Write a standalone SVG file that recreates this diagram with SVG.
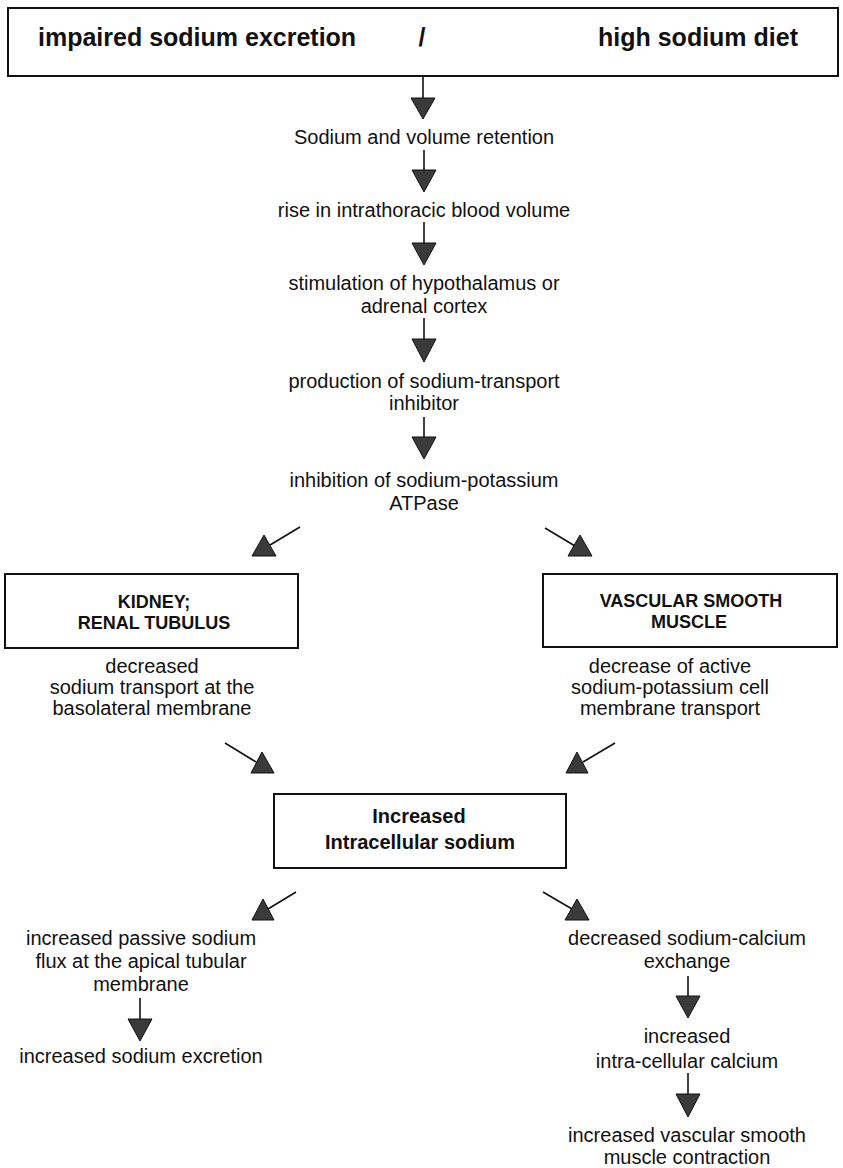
<svg xmlns="http://www.w3.org/2000/svg" width="843" height="1168" viewBox="0 0 843 1168">
<style>
.box{fill:#fff;stroke:#111;stroke-width:2}
.t{font-family:"Liberation Sans",Arial,sans-serif;font-size:20px;fill:#111;text-anchor:middle}
.b{font-family:"Liberation Sans",Arial,sans-serif;font-weight:bold;fill:#111;text-anchor:middle}
.ln{stroke:#111;stroke-width:1.6;fill:none}
.hd{fill:#3a3a3a;stroke:#111;stroke-width:1}
</style>
<rect width="843" height="1168" fill="#fff"/>
<g id="top">
<rect class="box" x="8" y="8" width="830" height="68"/>
<text class="b" style="font-size:25px;text-anchor:start" x="38" y="46">impaired sodium excretion</text>
<text class="b" style="font-size:25px" x="422" y="46">/</text>
<text class="b" style="font-size:25px;text-anchor:start" x="598" y="46">high sodium diet</text>
</g>
<g id="n1"><text class="t" x="424" y="144">Sodium and volume retention</text></g>
<g id="n2"><text class="t" x="424" y="217">rise in intrathoracic blood volume</text></g>
<g id="n3"><text class="t" x="424" y="290">stimulation of hypothalamus or</text><text class="t" x="424" y="313">adrenal cortex</text></g>
<g id="n4"><text class="t" x="424" y="388">production of sodium-transport</text><text class="t" x="424" y="410">inhibitor</text></g>
<g id="n5"><text class="t" x="424" y="487">inhibition of sodium-potassium</text><text class="t" x="424" y="510">ATPase</text></g>
<g id="kidney">
<rect class="box" x="5" y="574" width="293" height="74"/>
<text class="b" style="font-size:18px" x="154" y="608">KIDNEY;</text>
<text class="b" style="font-size:18px" x="154" y="629">RENAL TUBULUS</text>
<text class="t" x="152" y="673">decreased</text>
<text class="t" x="152" y="694">sodium transport at the</text>
<text class="t" x="152" y="715">basolateral membrane</text>
</g>
<g id="vascular">
<rect class="box" x="543" y="574" width="294" height="73"/>
<text class="b" style="font-size:18px" x="691" y="607">VASCULAR SMOOTH</text>
<text class="b" style="font-size:18px" x="689" y="628">MUSCLE</text>
<text class="t" x="670" y="673">decrease of active</text>
<text class="t" x="670" y="694">sodium-potassium cell</text>
<text class="t" x="670" y="715">membrane transport</text>
</g>
<g id="center">
<rect class="box" x="274" y="794" width="292" height="74"/>
<text class="b" style="font-size:20px" x="419" y="823">Increased</text>
<text class="b" style="font-size:20px" x="420" y="849">Intracellular sodium</text>
</g>
<g id="left-out">
<text class="t" x="141" y="945">increased passive sodium</text>
<text class="t" x="141" y="968">flux at the apical tubular</text>
<text class="t" x="141" y="991">membrane</text>
</g>
<g id="left-end"><text class="t" x="141" y="1063">increased sodium excretion</text></g>
<g id="right-out">
<text class="t" x="687" y="945">decreased sodium-calcium</text>
<text class="t" x="687" y="968">exchange</text>
</g>
<g id="right-mid">
<text class="t" x="687" y="1043">increased</text>
<text class="t" x="687" y="1068">intra-cellular calcium</text>
</g>
<g id="right-end">
<text class="t" x="687" y="1142">increased vascular smooth</text>
<text class="t" x="687" y="1164">muscle contraction</text>
</g>
<g id="connectors">
<line class="ln" x1="423" y1="76" x2="423" y2="99"/><polygon class="hd" points="411,98 435,98 423,119"/>
<line class="ln" x1="424" y1="150" x2="424" y2="171"/><polygon class="hd" points="412,170 436,170 424,192"/>
<line class="ln" x1="424" y1="222" x2="424" y2="244"/><polygon class="hd" points="412,243 436,243 424,265"/>
<line class="ln" x1="424" y1="318" x2="424" y2="340"/><polygon class="hd" points="412,339 436,339 424,362"/>
<line class="ln" x1="424" y1="417" x2="424" y2="438"/><polygon class="hd" points="412,437 436,437 424,459"/>
<line class="ln" x1="300" y1="527" x2="270" y2="545"/><polygon class="hd" points="264,535 252,556 276,556"/>
<line class="ln" x1="545" y1="528" x2="575" y2="546"/><polygon class="hd" points="580,535 568,556 592,556"/>
<line class="ln" x1="225" y1="743" x2="256" y2="762"/><polygon class="hd" points="262,752 251,773 274,773"/>
<line class="ln" x1="615" y1="743" x2="583" y2="762"/><polygon class="hd" points="577,752 566,773 588,773"/>
<line class="ln" x1="296" y1="892" x2="268" y2="909"/><polygon class="hd" points="263,899 252,920 274,920"/>
<line class="ln" x1="543" y1="892" x2="572" y2="909"/><polygon class="hd" points="577,899 565,920 589,920"/>
<line class="ln" x1="140" y1="998" x2="140" y2="1020"/><polygon class="hd" points="128,1019 152,1019 140,1041"/>
<line class="ln" x1="688" y1="976" x2="688" y2="997"/><polygon class="hd" points="676,996 700,996 688,1018"/>
<line class="ln" x1="688" y1="1073" x2="688" y2="1095"/><polygon class="hd" points="676,1094 700,1094 688,1117"/>
</g>
</svg>
